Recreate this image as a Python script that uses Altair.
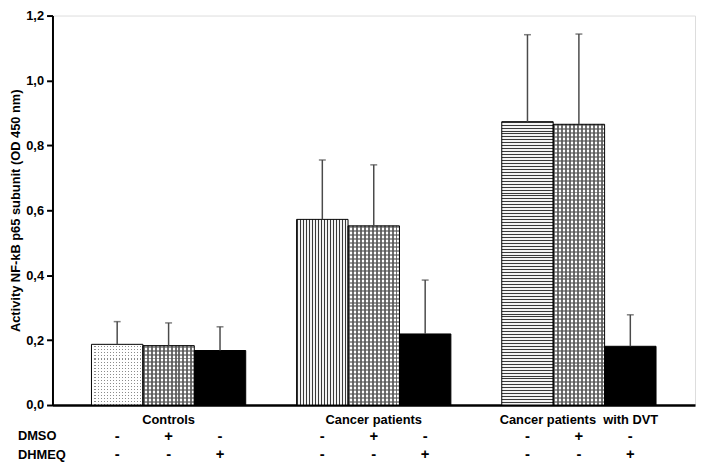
import altair as alt
import pandas as pd

# ---- data ----
groups = ["Controls", "Cancer patients", "Cancer patients\u00a0 with DVT"]
treatments = ["none", "DMSO", "DHMEQ"]
group_col = [groups[0]] * 3 + [groups[1]] * 3 + [groups[2]] * 3
treat_col = treatments * 3
mean_vals = [0.187, 0.183, 0.168, 0.572, 0.552, 0.219, 0.873, 0.865, 0.181]
upper_vals = [0.257, 0.253, 0.241, 0.755, 0.740, 0.385, 1.141, 1.143, 0.278]
dmso_signs = ["-", "+", "-"] * 3
dhmeq_signs = ["-", "-", "+"] * 3
y_ticks = [0.0, 0.2, 0.4, 0.6, 0.8, 1.0, 1.2]

df = pd.DataFrame({
    "group": group_col,
    "treat": treat_col,
    "mean": mean_vals,
    "upper": upper_vals,
    "dmso": dmso_signs,
    "dhmeq": dhmeq_signs,
})

W, H = 650, 394
FONT = "Liberation Sans"

x_enc = alt.X("group:N", sort=groups,
              scale=alt.Scale(paddingInner=0.248, paddingOuter=0.19),
              axis=alt.Axis(title=None, labelAngle=0, ticks=False, labelPadding=9,
                            labelFontSize=13, labelFontWeight="bold", labelColor="black",
                            domainColor="black", domainWidth=2.5, labelFont=FONT))
xo_enc = alt.XOffset("treat:N", sort=treatments,
                     scale=alt.Scale(paddingInner=0, paddingOuter=0))
y_axis = alt.Axis(values=y_ticks, grid=False,
                  labelExpr="replace(format(datum.value, '.1f'), '.', ',')",
                  title="Activity NF-kB p65 subunit (OD 450 nm)",
                  titleFontSize=13, titleFontWeight="bold", titleColor="black", titleFont=FONT,
                  titleX=-30,
                  labelFontSize=13, labelFontWeight="bold", labelColor="black", labelFont=FONT,
                  tickSize=6, tickWidth=2, tickColor="black", labelPadding=3,
                  domainColor="black", domainWidth=2)
y_scale = alt.Scale(domain=[0, 1.2], nice=False)
y_enc = alt.Y("mean:Q", scale=y_scale, axis=y_axis)

TRANSPARENT = "rgba(255,255,255,0)"


def stripes(n, c1, c2, frac, horizontal):
    stops = []
    for i in range(n):
        a = i / n
        b = (i + frac) / n
        c = (i + 1) / n
        stops += [alt.GradientStop(color=c1, offset=a), alt.GradientStop(color=c1, offset=b),
                  alt.GradientStop(color=c2, offset=b), alt.GradientStop(color=c2, offset=min(c, 1.0))]
    if horizontal:
        return alt.LinearGradient(gradient="linear", stops=stops, x1=0, x2=0, y1=0, y2=1)
    return alt.LinearGradient(gradient="linear", stops=stops, x1=0, x2=1, y1=0, y2=0)


base = alt.Chart(df)
layers = []
for g, t, m in zip(group_col, treat_col, mean_vals):
    h_px = m / 1.2 * H
    sel = base.transform_filter((alt.datum.group == g) & (alt.datum.treat == t))
    if t == "DHMEQ":
        fills = ["black"]
    elif t == "DMSO":
        fills = [stripes(13, "#6e6e6e", "white", 0.5, False),
                 stripes(max(1, round(h_px / 4)), "rgba(85,85,85,0.6)", TRANSPARENT, 0.5, True)]
    elif g == groups[0]:
        fills = [stripes(17, "#8c8c8c", "white", 0.34, False),
                 stripes(max(1, round(h_px / 3)), "white", TRANSPARENT, 0.66, True)]
    elif g == groups[1]:
        fills = [stripes(17, "#3a3a3a", "#f4f4f4", 0.34, False)]
    else:
        fills = [stripes(max(1, round(h_px / 3)), "#3a3a3a", "#f4f4f4", 0.34, True)]
    for f in fills:
        layers.append(sel.mark_bar(fill=f, strokeWidth=0).encode(x=x_enc, xOffset=xo_enc, y=y_enc))

outline = base.mark_bar(fillOpacity=0, stroke="black", strokeWidth=1).encode(
    x=x_enc, xOffset=xo_enc, y=y_enc)
err = base.mark_rule(color="#4a4a4a", strokeWidth=1.5).encode(
    x=x_enc, xOffset=xo_enc, y=y_enc, y2="upper:Q")
cap = base.mark_tick(orient="horizontal", size=7, thickness=1.5, color="#4a4a4a").encode(
    x=x_enc, xOffset=xo_enc, y=alt.Y("upper:Q", scale=y_scale, axis=y_axis))
dmso_txt = base.mark_text(fontSize=15, fontWeight="bold", font=FONT, color="black").encode(
    x=x_enc, xOffset=xo_enc, text="dmso:N", y=alt.value(H + 31))
dhmeq_txt = base.mark_text(fontSize=15, fontWeight="bold", font=FONT, color="black").encode(
    x=x_enc, xOffset=xo_enc, text="dhmeq:N", y=alt.value(H + 50))

row1 = alt.Chart(pd.DataFrame({"label": ["DMSO"]})).mark_text(
    align="left", fontSize=13, fontWeight="bold", font=FONT, color="black").encode(
    text="label:N", x=alt.value(-35), y=alt.value(H + 31))
row2 = alt.Chart(pd.DataFrame({"label": ["DHMEQ"]})).mark_text(
    align="left", fontSize=13, fontWeight="bold", font=FONT, color="black").encode(
    text="label:N", x=alt.value(-35), y=alt.value(H + 51))

chart = alt.layer(*layers, outline, err, cap, dmso_txt, dhmeq_txt, row1, row2).properties(
    width=W, height=H,
    padding={"left": 45, "top": 5, "right": 1, "bottom": 56},
    autosize=alt.AutoSizeParams(type="none"),
).configure_view(stroke=None).configure(font=FONT, background="white")

chart.save("out.html", embed_options={"renderer": "svg", "actions": False})
